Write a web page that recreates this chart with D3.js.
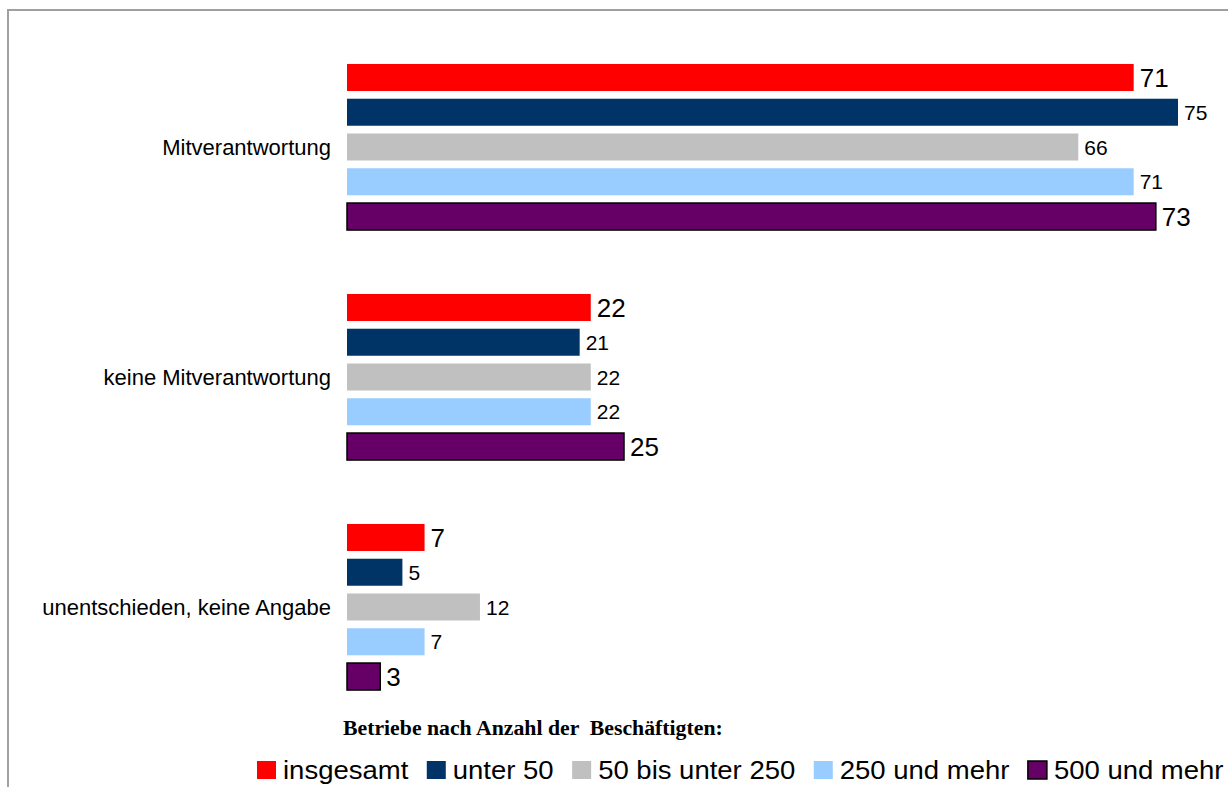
<!DOCTYPE html>
<html>
<head>
<meta charset="utf-8">
<script src="https://cdn.jsdelivr.net/npm/d3@7"></script>
<style>
  html, body { margin: 0; padding: 0; background: #ffffff; }
  svg { display: block; }
  text { font-family: "Liberation Sans", Arial, sans-serif; fill: #000; }
  text.legend-title { font-family: "Liberation Serif", "Times New Roman", serif; font-weight: bold; white-space: pre; }
</style>
</head>
<body>
<svg id="chart" width="1228" height="787"></svg>
<script>
// Answer categories (one group of bars each)
const categories = ["Mitverantwortung", "keine Mitverantwortung", "unentschieden, keine Angabe"];
// Company size classes
const series = ["insgesamt", "unter 50", "50 bis unter 250", "250 und mehr", "500 und mehr"];
// Percentages per series, in category order
const insgesamt   = [71, 22, 7];
const unter50     = [75, 21, 5];
const bis250      = [66, 22, 12];
const ab250       = [71, 22, 7];
const ab500       = [73, 25, 3];
const legendTitle = "Betriebe nach Anzahl der  Beschäftigten:";

const values = [insgesamt, unter50, bis250, ab250, ab500];
const colors = ["#ff0000", "#003366", "#c0c0c0", "#99ccff", "#660066"];
const labelSize = [26, 21, 21, 21, 26];

const svg = d3.select("#chart");

// frame of the chart area
svg.append("path")
  .attr("d", "M8,787 L8,10 L1228,10")
  .attr("fill", "none")
  .attr("stroke", "#a0a0a0")
  .attr("stroke-width", 2);

const x = d3.scaleLinear().domain([0, 80]).range([347, 1233.4]);
const y0 = d3.scaleBand().domain(categories).range([32, 722]).paddingInner(0.278).paddingOuter(0.139);
const y1 = d3.scaleBand().domain(series).range([0, y0.bandwidth()]).paddingInner(0.223);

// category labels
svg.append("g").selectAll("text")
  .data(categories)
  .join("text")
  .attr("x", 331)
  .attr("y", d => y0(d) + y0.bandwidth() / 2 + 7.9)
  .attr("text-anchor", "end")
  .attr("font-size", 22)
  .text(d => d);

const rows = [];
categories.forEach((c, ci) => {
  series.forEach((s, si) => rows.push({ cat: c, ser: s, si, v: values[si][ci] }));
});

const bars = svg.append("g");
bars.selectAll("rect")
  .data(rows)
  .join("rect")
  .attr("x", x(0))
  .attr("y", d => y0(d.cat) + y1(d.ser))
  .attr("width", d => x(d.v) - x(0))
  .attr("height", y1.bandwidth())
  .attr("fill", d => colors[d.si])
  .attr("stroke", d => d.si === 4 ? "#000" : "none")
  .attr("stroke-width", 1.5);

bars.selectAll("text")
  .data(rows)
  .join("text")
  .attr("x", d => x(d.v) + 6)
  .attr("y", d => y0(d.cat) + y1(d.ser) + y1.bandwidth() / 2 + labelSize[d.si] * 0.358)
  .attr("font-size", d => labelSize[d.si])
  .text(d => d.v);

// legend title
const title = svg.append("text")
  .attr("class", "legend-title")
  .attr("font-size", 21)
  .text(legendTitle);
const tw = title.node().getComputedTextLength();
const tScale = 380 / tw;
title.attr("transform", `translate(343,735) scale(${tScale},1)`);

// legend entries
const legend = svg.append("g");
let lx = 257;
const stretch = 1.1;
series.forEach((s, i) => {
  legend.append("rect")
    .attr("x", lx).attr("y", 761)
    .attr("width", 19).attr("height", 18)
    .attr("fill", colors[i])
    .attr("stroke", i === 4 ? "#000" : "none")
    .attr("stroke-width", 1.5);
  const t = legend.append("text")
    .attr("font-size", 25)
    .attr("transform", `translate(${lx + 26},779) scale(${stretch},1)`)
    .text(s);
  lx += 26 + t.node().getComputedTextLength() * stretch + 18.5;
});
</script>
</body>
</html>
